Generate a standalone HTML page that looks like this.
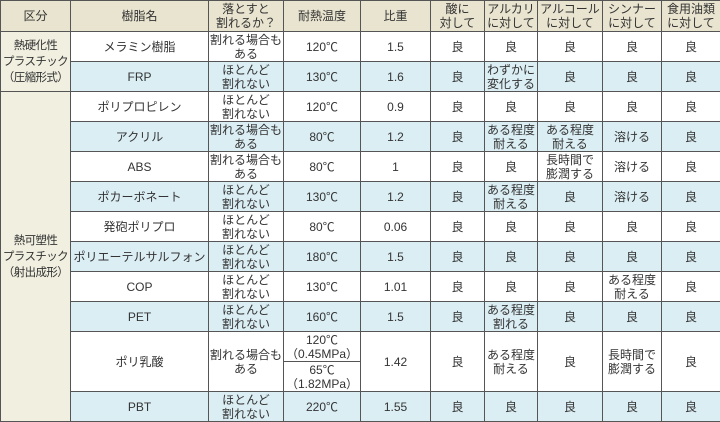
<!DOCTYPE html>
<html><head><meta charset="utf-8"><style>
html,body{margin:0;padding:0;background:#fff;width:720px;height:422px;overflow:hidden}
table{border-collapse:collapse;table-layout:fixed;width:720px;font-family:"Liberation Sans","Noto Sans CJK JP",sans-serif;font-size:12px;color:#333;line-height:14px}
td{border:1px solid #555;text-align:center;vertical-align:middle;padding:0;height:29px;overflow:hidden}
tr.h td{background:#e8e4cf;height:30px}
tr.b td{background:#dbeef4}
tr.w td{background:#fff}
td.k{background:#f1efe0 !important;white-space:nowrap;font-size:11.5px;letter-spacing:-0.6px;line-height:16px}
td.s{height:29px}
</style></head><body>
<table>
<colgroup><col style="width:70px"><col style="width:138px"><col style="width:75px"><col style="width:77px"><col style="width:70px"><col style="width:54px"><col style="width:53px"><col style="width:65px"><col style="width:59px"><col style="width:59px"></colgroup>
<tr class="h"><td>区分</td><td>樹脂名</td><td>落とすと<br>割れるか？</td><td>耐熱温度</td><td>比重</td><td>酸に<br>対して</td><td>アルカリ<br>に対して</td><td>アルコール<br>に対して</td><td>シンナー<br>に対して</td><td>食用油類<br>に対して</td></tr>
<tr class="w"><td class="k" rowspan="2">熱硬化性<br>プラスチック<br>（圧縮形式）</td><td>メラミン樹脂</td><td>割れる場合も<br>ある</td><td>120℃</td><td>1.5</td><td>良</td><td>良</td><td>良</td><td>良</td><td>良</td></tr>
<tr class="b"><td>FRP</td><td>ほとんど<br>割れない</td><td>130℃</td><td>1.6</td><td>良</td><td>わずかに<br>変化する</td><td>良</td><td>良</td><td>良</td></tr>
<tr class="w"><td class="k" rowspan="12">熱可塑性<br>プラスチック<br>（射出成形）</td><td>ポリプロピレン</td><td>ほとんど<br>割れない</td><td>120℃</td><td>0.9</td><td>良</td><td>良</td><td>良</td><td>良</td><td>良</td></tr>
<tr class="b"><td>アクリル</td><td>割れる場合も<br>ある</td><td>80℃</td><td>1.2</td><td>良</td><td>ある程度<br>耐える</td><td>ある程度<br>耐える</td><td>溶ける</td><td>良</td></tr>
<tr class="w"><td>ABS</td><td>割れる場合も<br>ある</td><td>80℃</td><td>1</td><td>良</td><td>良</td><td>長時間で<br>膨潤する</td><td>溶ける</td><td>良</td></tr>
<tr class="b"><td>ポカーボネート</td><td>ほとんど<br>割れない</td><td>130℃</td><td>1.2</td><td>良</td><td>ある程度<br>耐える</td><td>良</td><td>溶ける</td><td>良</td></tr>
<tr class="w"><td>発砲ポリプロ</td><td>ほとんど<br>割れない</td><td>80℃</td><td>0.06</td><td>良</td><td>良</td><td>良</td><td>良</td><td>良</td></tr>
<tr class="b"><td>ポリエーテルサルフォン</td><td>ほとんど<br>割れない</td><td>180℃</td><td>1.5</td><td>良</td><td>良</td><td>良</td><td>良</td><td>良</td></tr>
<tr class="w"><td>COP</td><td>ほとんど<br>割れない</td><td>130℃</td><td>1.01</td><td>良</td><td>良</td><td>良</td><td>ある程度<br>耐える</td><td>良</td></tr>
<tr class="b"><td>PET</td><td>ほとんど<br>割れない</td><td>160℃</td><td>1.5</td><td>良</td><td>ある程度<br>割れる</td><td>良</td><td>良</td><td>良</td></tr>
<tr class="w"><td rowspan="2">ポリ乳酸</td><td rowspan="2">割れる場合も<br>ある</td><td class="s">120℃<br>（0.45MPa）</td><td rowspan="2">1.42</td><td rowspan="2">良</td><td rowspan="2">ある程度<br>耐える</td><td rowspan="2">良</td><td rowspan="2">長時間で<br>膨潤する</td><td rowspan="2">良</td></tr>
<tr class="w"><td class="s">65℃<br>（1.82MPa）</td></tr>
<tr class="b"><td>PBT</td><td>ほとんど<br>割れない</td><td>220℃</td><td>1.55</td><td>良</td><td>良</td><td>良</td><td>良</td><td>良</td></tr>
</table>
</body></html>
